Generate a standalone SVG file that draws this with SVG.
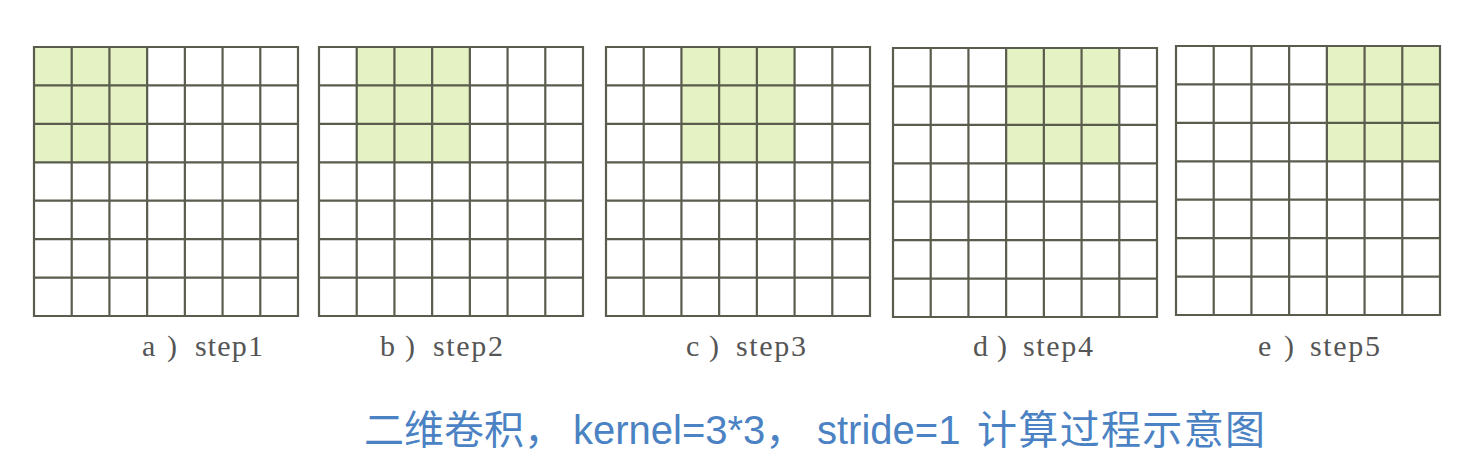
<svg xmlns="http://www.w3.org/2000/svg" xmlns:xlink="http://www.w3.org/1999/xlink" width="1481" height="471" viewBox="0 0 1481 471">
<style>
.gl{fill:none;stroke:#5a5c4d;stroke-width:2.2}
.hl{fill:#e5f2c3}
.lab{font-family:"Liberation Serif","Noto Sans CJK SC",serif;font-size:30px;fill:#555555}
.title{font-family:"Liberation Sans","Noto Sans CJK SC",sans-serif;font-size:40px;fill:#4a82c3}
</style>
<defs>
<path id="grid" class="gl" d="M0,0H264V269H0Z M37.71,0V269 M75.43,0V269 M113.14,0V269 M150.86,0V269 M188.57,0V269 M226.29,0V269 M0,38.43H264 M0,76.86H264 M0,115.29H264 M0,153.71H264 M0,192.14H264 M0,230.57H264"/>
</defs>
<rect width="1481" height="471" fill="#ffffff"/>
<g id="connectors"></g>
<g id="step1" transform="translate(34,47)">
<rect class="hl" x="0" y="0" width="113.14" height="115.29"/>
<use xlink:href="#grid" href="#grid"/>
</g>
<g id="step2" transform="translate(319,47)">
<rect class="hl" x="37.71" y="0" width="113.14" height="115.29"/>
<use xlink:href="#grid" href="#grid"/>
</g>
<g id="step3" transform="translate(606,47)">
<rect class="hl" x="75.43" y="0" width="113.14" height="115.29"/>
<use xlink:href="#grid" href="#grid"/>
</g>
<g id="step4" transform="translate(893,48)">
<rect class="hl" x="113.14" y="0" width="113.14" height="115.29"/>
<use xlink:href="#grid" href="#grid"/>
</g>
<g id="step5" transform="translate(1176,46)">
<rect class="hl" x="150.86" y="0" width="113.14" height="115.29"/>
<use xlink:href="#grid" href="#grid"/>
</g>
<g id="labels">
<text class="lab" y="356"><tspan x="142">a</tspan><tspan x="167">)</tspan><tspan x="195" textLength="68" lengthAdjust="spacing">step1</tspan></text>
<text class="lab" y="356"><tspan x="380">b</tspan><tspan x="405">)</tspan><tspan x="433" textLength="70" lengthAdjust="spacing">step2</tspan></text>
<text class="lab" y="356"><tspan x="686">c</tspan><tspan x="709">)</tspan><tspan x="736" textLength="70" lengthAdjust="spacing">step3</tspan></text>
<text class="lab" y="356"><tspan x="973">d</tspan><tspan x="997">)</tspan><tspan x="1023" textLength="70" lengthAdjust="spacing">step4</tspan></text>
<text class="lab" y="356"><tspan x="1258">e</tspan><tspan x="1284">)</tspan><tspan x="1310" textLength="70" lengthAdjust="spacing">step5</tspan></text>
</g>
<g id="title">
<text class="title" y="444"><tspan x="364">二维卷积，</tspan><tspan x="573">kernel=3*3，</tspan><tspan x="817">stride=1</tspan><tspan x="977" textLength="288" lengthAdjust="spacing">计算过程示意图</tspan></text>
</g>
</svg>
